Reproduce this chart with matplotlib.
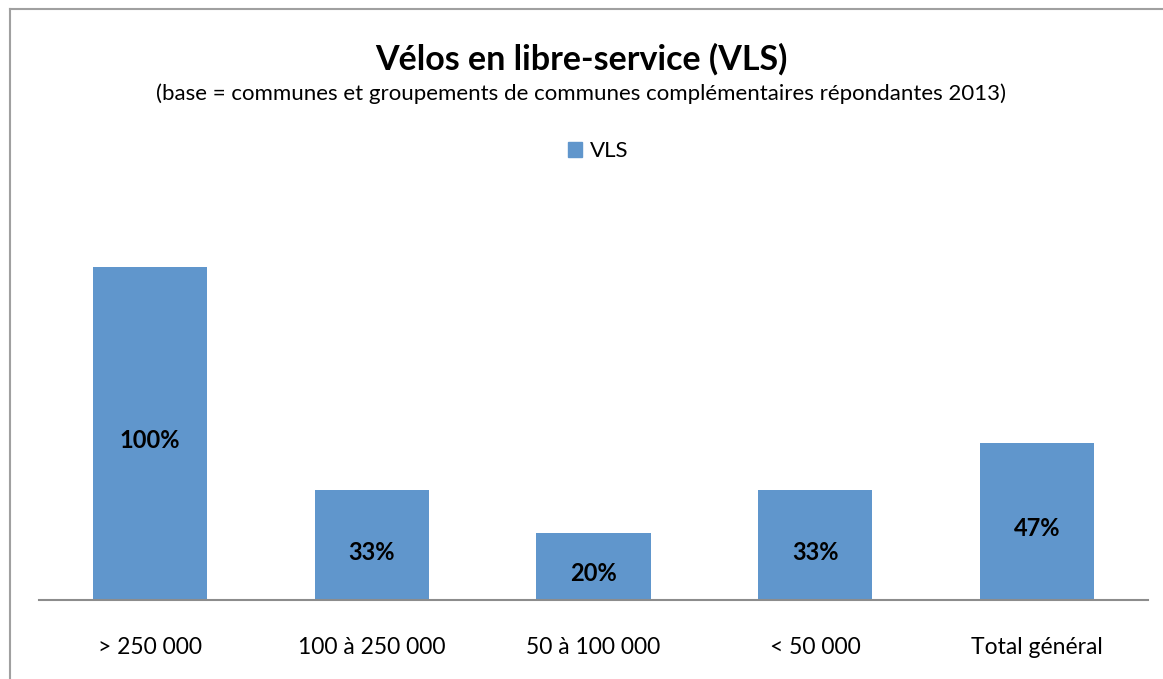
import matplotlib
matplotlib.use("Agg")
import matplotlib.pyplot as plt
from matplotlib.lines import Line2D
from matplotlib.patches import Patch

plt.rcParams['font.family'] = ['Lato', 'DejaVu Sans']

categories = ["> 250 000", "100 à 250 000", "50 à 100 000", "< 50 000", "Total général"]
vls = [100, 33, 20, 33, 47]
bar_labels = ["100%", "33%", "20%", "33%", "47%"]

BAR_COLOR = "#6096CC"
GRID_GRAY = "#8C8C8C"

fig = plt.figure(figsize=(11.63, 6.79), dpi=100)

# outer chart frame (only left and top edges show in the crop)
fig.add_artist(Line2D([10 / 1163, 10 / 1163], [0, 1 - 9 / 679], color="#A0A0A0", lw=1.5))
fig.add_artist(Line2D([10 / 1163, 1], [1 - 9 / 679, 1 - 9 / 679], color="#A0A0A0", lw=1.5))

ax = fig.add_axes([39 / 1163, 1 - 600 / 679, (1148 - 39) / 1163, 400 / 679])
x = range(len(categories))
ax.bar(x, [v / 100 for v in vls], width=0.514, color=BAR_COLOR)
ax.set_xlim(-0.5, len(categories) - 0.5)
ax.set_ylim(0, 1.2)

for xi, v, lab in zip(x, vls, bar_labels):
    ax.text(xi, v / 100 / 2 - 0.021, lab, ha="center", va="center",
            fontsize=17, fontweight="bold", color="black")

for s in ["top", "right", "left"]:
    ax.spines[s].set_visible(False)
ax.spines["bottom"].set_color(GRID_GRAY)
ax.spines["bottom"].set_linewidth(1.5)
ax.set_yticks([])
ax.set_xticks(list(x))
ax.set_xticklabels(categories, fontsize=16.5)
ax.tick_params(axis="x", length=0, pad=27)

fig.text(0.5, 1 - 59 / 679, "Vélos en libre-service (VLS)", ha="center", va="center",
         fontsize=24.5, fontweight="bold")
fig.text(0.5, 1 - 94 / 679,
         "(base = communes et groupements de communes complémentaires répondantes 2013)",
         ha="center", va="center", fontsize=16)

fig.legend(handles=[Patch(color=BAR_COLOR, label="VLS")], loc="center",
           bbox_to_anchor=(598 / 1163, 1 - 151 / 679), frameon=False, fontsize=16,
           handlelength=0.65, handleheight=0.65, handletextpad=0.35)

fig.savefig("out.png", dpi=100)
